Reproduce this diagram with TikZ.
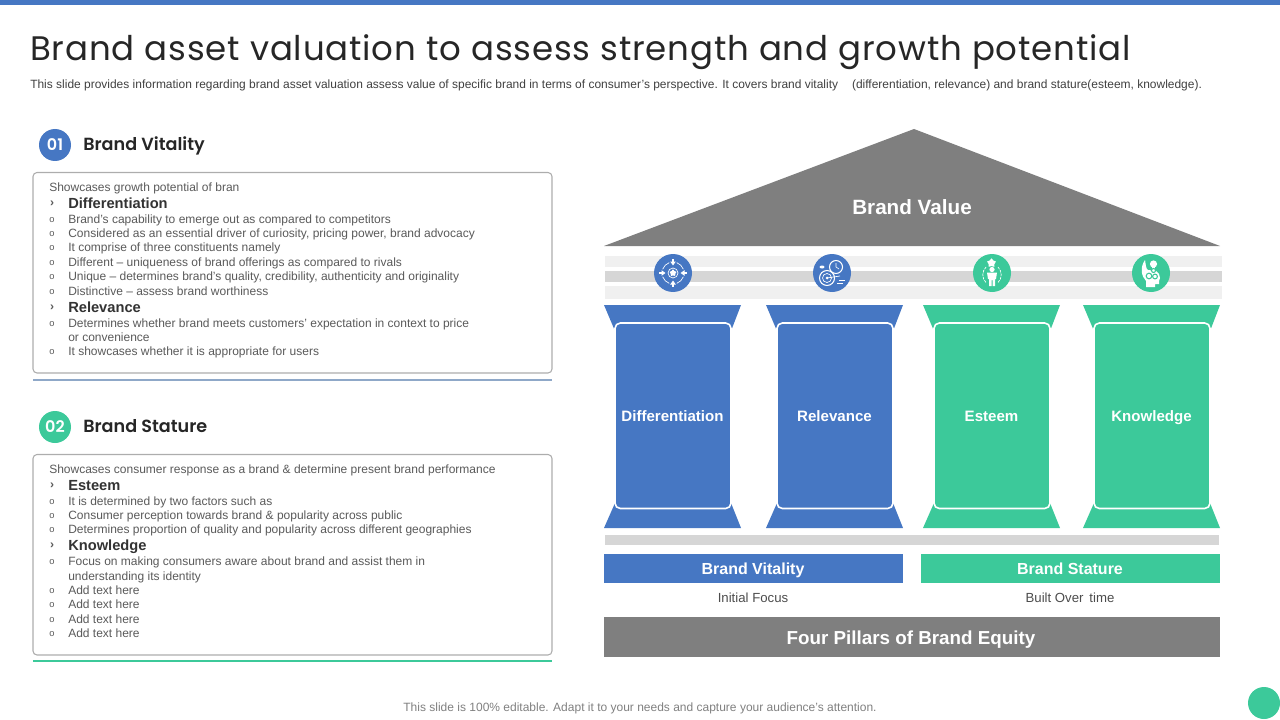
\documentclass[tikz,border=0pt]{standalone}
\usepackage{fontspec}
\usepackage{xcolor}
\setmainfont{Liberation Sans}
\newfontfamily\titlefont[LetterSpace=2.5]{Poppins}
\newfontfamily\headfont{Poppins SemiBold}
\usetikzlibrary{arrows.meta, shapes.geometric}

\definecolor{brandblue}{HTML}{4677C3}
\definecolor{brandgreen}{HTML}{3CC99A}
\definecolor{roofgray}{HTML}{7F7F7F}
\definecolor{bandlight}{HTML}{F0F0F0}
\definecolor{banddark}{HTML}{D6D6D6}
\definecolor{bodytext}{HTML}{5A5A5A}
\definecolor{ruleblue}{HTML}{8FA8C8}

\tikzset{
    level text/.style={text height=7.5pt, text depth=2pt},
    linetext/.style={anchor=west, inner sep=0pt, level text, yshift=-0.6pt, font=\fontsize{9}{9}\selectfont, text=bodytext},
    subhead/.style={anchor=west, inner sep=0pt, level text, yshift=-1.5pt, font=\fontsize{11}{11}\selectfont\bfseries, text=black!80},
    mark char/.style={anchor=center, inner sep=0pt, font=\fontsize{7}{7}\selectfont, text=bodytext},
    arrow char/.style={anchor=center, inner sep=0pt, font=\fontsize{9}{9}\selectfont\bfseries, text=bodytext},
    textbox/.style={draw=black!32, line width=0.8pt, rounded corners=3pt, fill=white},
    numdisc/.style={circle, minimum size=24pt, inner sep=0pt, text=white, font=\fontsize{12}{12}\selectfont\headfont},
    panelhead/.style={anchor=west, inner sep=0pt, level text, yshift=-2.2pt, text=black!85, font=\fontsize{13.2}{13.2}\selectfont\headfont},
    pillarbody/.style={draw=white, line width=1.2pt, rounded corners=4pt},
    pillarlabel/.style={text=white, inner sep=0pt, level text, yshift=-1.5pt, font=\fontsize{11.3}{11.3}\selectfont\bfseries},
    barlabel/.style={text=white, inner sep=0pt, level text, yshift=-0.8pt, font=\fontsize{12}{12}\selectfont\bfseries},
    capline/.style={text=black!70, inner sep=0pt, level text, yshift=-0.6pt, font=\fontsize{9.9}{9.9}\selectfont},
    iconline/.style={draw=white, line width=0.5pt},
    iconfill/.style={fill=white, draw=none}
}

\begin{document}
\begin{tikzpicture}[x=0.75pt, y=-0.75pt]
    \useasboundingbox (0,0) rectangle (1280,720);

    % Top stripe
    \fill[brandblue] (0,0) rectangle (1280,5);

    % Title
    \node[anchor=west, inner sep=0pt, level text, yshift=-6.5pt, text=black!85, font=\fontsize{25.5}{25.5}\selectfont\titlefont] (title) at (30,48) {Brand asset valuation to assess strength and growth potential};
    \node[linetext, text=black!75, font=\fontsize{8.98}{8.98}\selectfont] (subtitle) at (30,84) {This slide provides information regarding brand asset valuation assess value of specific brand in terms of consumer's perspective. It covers brand vitality\hspace{8pt} (differentiation, relevance) and brand stature(esteem, knowledge).};

    % Vitality panel
    \node[numdisc, fill=brandblue] (num one) at (55,145) {01};
    \node[panelhead] (head one) at (83,144) {Brand Vitality};
    \draw[textbox] (33,172.5) rectangle (552,373);
    \draw[line width=1.7pt, color=ruleblue] (33,380) -- (552,380);

    \node[linetext] (v0) at (49,187) {Showcases growth potential of bran};
    \node[arrow char] (vm1) at (52,204) {›};
    \node[subhead] (v1) at (68,203) {Differentiation};
    \foreach \ypos/\idx/\linetxt in {
        219/a/{Brand's capability to emerge out as compared to competitors},
        233/b/{Considered as an essential driver of curiosity, pricing power, brand advocacy},
        247/c/{It comprise of three constituents namely},
        262/d/{Different – uniqueness of brand offerings as compared to rivals},
        276/e/{Unique – determines brand's quality, credibility, authenticity and originality},
        291/f/{Distinctive – assess brand worthiness},
        323/g/{Determines whether brand meets customers' expectation in context to price},
        351/h/{It showcases whether it is appropriate for users}}{
        \node[mark char] (vm\idx) at (52,\ypos+1) {o};
        \node[linetext] (v\idx) at (68,\ypos) {\linetxt};
    }
    \node[arrow char] (vm2) at (52,308) {›};
    \node[subhead] (v2) at (68,307) {Relevance};
    \node[linetext] (vg2) at (68,337) {or convenience};

    % Stature panel
    \node[numdisc, fill=brandgreen] (num two) at (55,427) {02};
    \node[panelhead] (head two) at (83,426) {Brand Stature};
    \draw[textbox] (33,454.5) rectangle (552,655);
    \draw[line width=2.2pt, color=brandgreen] (33,661) -- (552,661);

    \node[linetext] (s0) at (49,469) {Showcases consumer response as a brand \& determine present brand performance};
    \node[arrow char] (sm1) at (52,486) {›};
    \node[subhead] (s1) at (68,485) {Esteem};
    \foreach \ypos/\idx/\linetxt in {
        501/a/{It is determined by two factors such as},
        515/b/{Consumer perception towards brand \& popularity across public},
        529/c/{Determines proportion of quality and popularity across different geographies},
        561/d/{Focus on making consumers aware about brand and assist them in},
        590/e/{Add text here},
        604/f/{Add text here},
        619/g/{Add text here},
        633/h/{Add text here}}{
        \node[mark char] (sm\idx) at (52,\ypos+1) {o};
        \node[linetext] (s\idx) at (68,\ypos) {\linetxt};
    }
    \node[arrow char] (sm2) at (52,546) {›};
    \node[subhead] (s2) at (68,545) {Knowledge};
    \node[linetext] (sd2) at (68,576) {understanding its identity};

    % Roof and bands
    \fill[roofgray] (604,246) -- (914,129) -- (1220,246) -- cycle;
    \node[text=white, inner sep=0pt, level text, yshift=-3pt, font=\fontsize{15.5}{15.5}\selectfont\bfseries] (roof label) at (912,207) {Brand Value};
    \fill[bandlight] (605,256) rectangle (1222,267);
    \fill[banddark] (605,271) rectangle (1222,282);
    \fill[bandlight] (605,286) rectangle (1222,299);

    % Pillars
    \foreach \px/\pcol/\plabel/\pname in {
        604/brandblue/Differentiation/diff,
        766/brandblue/Relevance/rele,
        923/brandgreen/Esteem/este,
        1083/brandgreen/Knowledge/know}{
        \fill[\pcol] (\px,305) -- (\px+137,305) -- (\px+127,331) -- (\px+11,331) -- cycle;
        \fill[\pcol] (\px,528) -- (\px+137,528) -- (\px+127,503) -- (\px+11,503) -- cycle;
        \draw[pillarbody, fill=\pcol] (\px+11,323) rectangle (\px+127,508.5);
        \node[pillarlabel] (\pname) at (\px+68.5,416) {\plabel};
    }

    % Icon discs
    \fill[brandblue] (673,273) circle (19);
    \fill[brandblue] (832,273) circle (19);
    \fill[brandgreen] (992,273) circle (19);
    \fill[brandgreen] (1151,273) circle (19);

    % Target with arrows
    \begin{scope}[shift={(673,273)}]
        \draw[iconline] (0,0) circle (5);
        \node[star, star points=5, iconfill, minimum size=5.5pt, inner sep=0pt] (icon star a) at (0,0) {};
        \foreach \ang in {20,110,200,290}
            \draw[iconline] (\ang:11) arc (\ang:\ang+50:11);
        \foreach \ang in {0,90,180,270}
            \draw[iconline, line width=1pt, {Triangle[length=3pt,width=4pt]}-] (\ang:7.5) -- (\ang:14);
    \end{scope}

    % Clock and target
    \begin{scope}[shift={(832,273)}]
        \draw[iconline, line width=0.8pt] (4,-6) circle (6.5);
        \draw[iconline] (4,-10) -- (4,-6) -- (7,-4);
        \draw[iconline, line width=0.8pt] (-5,5) circle (7.5);
        \draw[iconline] (-5,5) circle (4.5);
        \fill[white] (-5,5) circle (1.5);
        \draw[iconline] (-5,5) -- (8,3);
        \draw[iconline] (7,7) -- (13,7) (5,10) -- (11,10);
        \fill[white] (-10,-6) ellipse (2.5 and 1.5);
    \end{scope}

    % Person with star
    \begin{scope}[shift={(992,273)}]
        \node[star, star points=5, iconfill, minimum size=7pt, inner sep=0pt] (icon star b) at (-0.5,-10) {};
        \draw[iconline, dash pattern=on 2pt off 0.7pt] (-6,-6) arc (225:135:11);
        \draw[iconline, dash pattern=on 2pt off 0.7pt] (6,-6) arc (-45:45:11);
        \fill[white] (0,-3.5) circle (2.6);
        \fill[white] (-5,-0.5) -- (5,-0.5) -- (4,6) -- (3,6) -- (3,13) -- (0.5,13) -- (0.5,7) -- (-0.5,7) -- (-0.5,13) -- (-3,13) -- (-3,6) -- (-4,6) -- cycle;
    \end{scope}

    % Head with bulb
    \begin{scope}[shift={(1151,273)}]
        \fill[white] (-5,14) -- (-5,8) .. controls (-10,3) and (-11,-6) .. (-6,-13) .. controls (-5,-7) and (-5,-4) .. (-3,-3) -- (5,-2) -- (8,1) -- (9,5) -- (8,8) -- (8,11) -- (4,11) -- (4,14) -- cycle;
        \fill[white] (2.5,-9) circle (3.6);
        \fill[white] (1,-6) rectangle (4,-2);
        \draw[brandgreen, line width=0.8pt] (-2,3) circle (2.8);
        \draw[brandgreen, line width=0.8pt] (4,3.5) circle (2.4);
        \draw[brandgreen, line width=0.8pt] (2.5,-2.5) circle (2);
    \end{scope}

    % Base
    \fill[banddark] (605,535) rectangle (1219,545);
    \fill[brandblue] (604,554) rectangle (903,583);
    \fill[brandgreen] (921,554) rectangle (1220,583);
    \node[barlabel] (vitality label) at (753,569.5) {Brand Vitality};
    \node[barlabel] (stature label) at (1070,569.5) {Brand Stature};
    \node[capline] (vitality note) at (753,598.5) {Initial Focus};
    \node[capline] (stature note) at (1070,598.5) {Built Over\, time};
    \fill[roofgray] (604,617) rectangle (1220,657);
    \node[text=white, inner sep=0pt, level text, yshift=-2.5pt, font=\fontsize{14.1}{14.1}\selectfont\bfseries] (equity label) at (911,637) {Four Pillars of Brand Equity};

    % Footer
    \node[inner sep=0pt, level text, text=black!50, font=\fontsize{9}{9}\selectfont] (footer) at (640,707.5) {This slide is 100\% editable. Adapt it to your needs and capture your audience's attention.};
    \fill[brandgreen] (1264,703) circle (16);
\end{tikzpicture}
\end{document}
